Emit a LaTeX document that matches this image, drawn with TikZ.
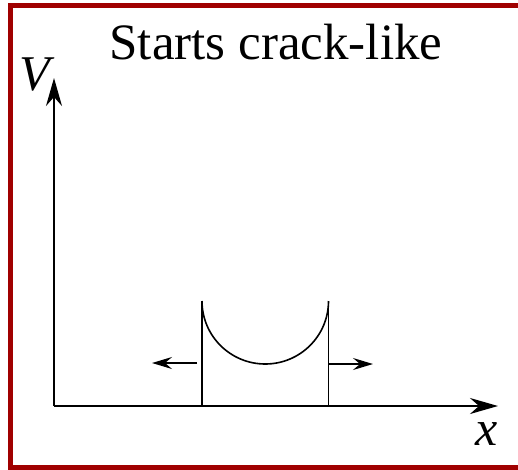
\documentclass[tikz,border=0pt]{standalone}
\usepackage{fontspec}
\setmainfont{Liberation Serif}
\usetikzlibrary{arrows.meta}
\begin{document}
\begin{tikzpicture}[x=1pt,y=-1pt,
  axis/.style={line width=2pt,-{Stealth[length=28pt,width=16pt,inset=9pt]}},
  thin/.style={line width=1.6pt},
  move/.style={line width=1.6pt,-{Stealth[length=20pt,width=12pt,inset=7pt]}},
  lbl/.style={font=\fontsize{50}{50}\selectfont\itshape,inner sep=0pt}]
\useasboundingbox (0,0) rectangle (518,469);
\fill[white] (0,0) rectangle (518,469);
% frame
\draw[color={rgb,255:red,160;green,0;blue,0},line width=5pt] (530,5) -- (10.5,5) -- (10.5,467) -- (530,467);
% title
\node[font=\fontsize{51}{51}\selectfont,inner sep=0pt] (title) at (276,42) {Starts crack-like};
% axes
\coordinate (O) at (54,406);
\coordinate (ytip) at (54,78);
\coordinate (xtip) at (498,406);
\draw[axis] (O) -- (ytip);
\draw[axis] (O) -- (xtip);
\node[lbl] (V) at (35,75) {V};
\node[lbl] (xl) at (487,434) {x};
% crack
\coordinate (lt) at (202,301);
\coordinate (lb) at (202,406);
\coordinate (rt) at (328.5,301);
\coordinate (rb) at (328.5,406);
\draw[thin] (lb) -- (lt);
\draw[thin] (rb) -- (rt);
\draw[thin] (lt) arc[start angle=180,end angle=360,x radius=63.25pt,y radius=63pt];
% motion arrows
\coordinate (la) at (197,363);
\coordinate (lat) at (152,363);
\coordinate (ra) at (328.5,364);
\coordinate (rat) at (373,364);
\draw[move] (la) -- (lat);
\draw[move] (ra) -- (rat);
\end{tikzpicture}
\end{document}
